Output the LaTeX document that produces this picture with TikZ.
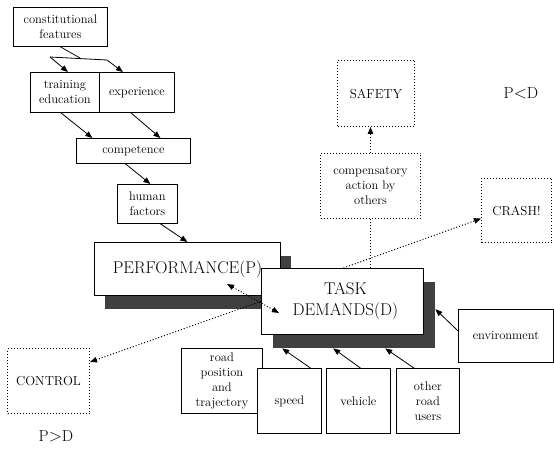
\documentclass[tikz,border=0pt]{standalone}
\usepackage{fontspec}
\usetikzlibrary{arrows.meta}
\begin{document}
\begin{tikzpicture}[x=1pt,y=-1pt,>={Triangle[length=7pt,width=5.5pt]}]
  {

    \tikzstyle{box}=[draw,line width=0.8pt,fill=white,anchor=north west,inner sep=1pt,align=center,font=\fontsize{12.5}{15}\selectfont]
    \tikzstyle{dotbox}=[box,dash pattern=on 1pt off 2pt,line width=1pt]
    \tikzstyle{bigbox}=[box,font=\fontsize{17}{21}\selectfont]
    \tikzstyle{shade}=[fill=black!75,anchor=north west,inner sep=0pt]
    \tikzstyle{dotline}=[line width=1pt,dash pattern=on 1pt off 2pt]
    \tikzstyle{sign}=[font=\fontsize{16}{19}\selectfont]
    \tikzstyle{link}=[line width=0.8pt,->]

    \useasboundingbox (0,0) rectangle (554,449);

    % person side
    \node [box,minimum width=94pt,minimum height=39pt] (const) at (13,7) {constitutional\\features};
    \node [box,minimum width=69pt,minimum height=40pt] (train) at (30,72) {training\\education};
    \node [box,minimum width=75pt,minimum height=40pt] (exper) at (99,72) {experience};
    \node [box,minimum width=114pt,minimum height=25pt] (compet) at (76,138) {competence};
    \node [box,minimum width=60pt,minimum height=39pt] (human) at (117,184) {human\\factors};

    \coordinate (split1) at (50,57);
    \coordinate (split2) at (80,58);
    \coordinate (split3) at (107,60);
    \draw [line width=0.8pt] (const.south) -- (split2);
    \draw [line width=0.8pt] (split1) -- (split3);
    \draw [link] (split1) -- ([xshift=3pt]train.north);
    \draw [link] (split3) -- ([xshift=-14pt]exper.north);
    \draw [link] ([xshift=-4pt]train.south) -- ([xshift=-41pt]compet.north);
    \draw [link] ([xshift=-6pt]exper.south) -- ([xshift=27pt]compet.north);
    \draw [link] ([xshift=-8pt]compet.south) -- ([xshift=3pt]human.north);

    % performance and demands
    \node [shade,minimum width=186pt,minimum height=53pt] (perfshadow) at (105,256) {};
    \node [bigbox,minimum width=186pt,minimum height=53pt] (perf) at (94,242) {PERFORMANCE(P)};
    \draw [link] ([xshift=13pt]human.south) -- (perf.north);

    \node [shade,minimum width=162pt,minimum height=66pt] (taskshadow) at (273,282) {};
    \node [bigbox,minimum width=162pt,minimum height=66pt] (task) at (261,268) {\hspace*{6pt}TASK\\\hspace*{6pt}DEMANDS(D)};

    % task factors
    \node [box,minimum width=95pt,minimum height=53pt] (envir) at (458,309) {environment};
    \node [box,minimum width=81pt,minimum height=65pt] (road) at (181,348) {road\\position\\and\\trajectory};
    \node [box,minimum width=64pt,minimum height=65pt] (speed) at (257,368) {speed};
    \node [box,minimum width=64pt,minimum height=65pt] (vehic) at (326,368) {vehicle};
    \node [box,minimum width=63pt,minimum height=65pt] (users) at (396,368) {other\\road\\users};

    \draw [link] ([yshift=5pt]envir.west) -- ([yshift=6pt]taskshadow.east);
    \draw [link] ([xshift=21pt]speed.north) -- ([xshift=-72pt]taskshadow.south);
    \draw [link] ([xshift=2pt]vehic.north) -- ([xshift=-21pt]taskshadow.south);
    \draw [link] ([xshift=-14pt]users.north) -- ([xshift=31pt]taskshadow.south);

    % outcomes
    \node [dotbox,minimum width=100pt,minimum height=65pt] (compens) at (320,153) {compensatory\\action by\\others};
    \node [dotbox,minimum width=77pt,minimum height=66pt,font=\fontsize{13}{16}\selectfont] (safety) at (337,60) {SAFETY};
    \node [dotbox,minimum width=70pt,minimum height=64pt,font=\fontsize{13}{16}\selectfont] (crash) at (481,178) {CRASH!};
    \node [dotbox,minimum width=82pt,minimum height=65pt,font=\fontsize{13}{16}\selectfont] (control) at (7,348) {CONTROL};

    \node [sign] (pless) at (521,93) {P$<$D};
    \node [sign] (pmore) at (56,436) {P$>$D};

    \coordinate (pdot) at (227,284);
    \coordinate (tdot) at (279,313);
    \draw [dotline,<->] (pdot) -- (tdot);
    \draw [dotline] (compens.south) -- (compens.south |- task.north);
    \draw [dotline,->] (compens.north) -- (compens.north |- safety.south);
    \draw [dotline,->] ([xshift=1pt]task.north) -- ([yshift=-8pt]crash.west);
    \draw [dotline,->] (task.west) -- ([yshift=-14pt]control.north east);

  }
\end{tikzpicture}
\end{document}
